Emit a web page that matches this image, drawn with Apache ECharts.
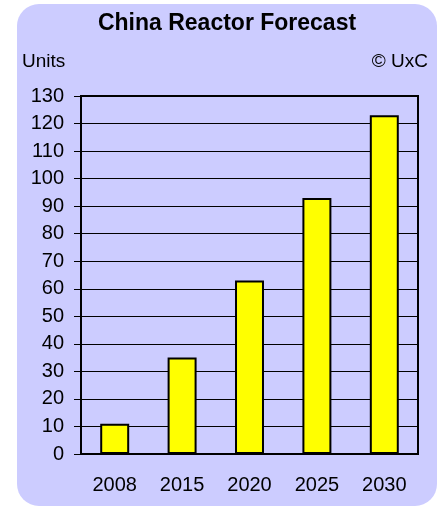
<!DOCTYPE html>
<html><head><meta charset="utf-8">
<script src="https://cdn.jsdelivr.net/npm/echarts@6/dist/echarts.min.js"></script>
<style>html,body{margin:0;padding:0;background:#fff}#c{width:438px;height:508px}</style>
</head><body><div id="c"></div>
<script>
const categories = ['2008','2015','2020','2025','2030'];
const units = [11, 35, 63, 93, 123];
const yMin = 0, yMax = 130, yStep = 10;
const titleText = 'China Reactor Forecast';
const unitLabel = 'Units';
const sourceLabel = '© UxC';

const chart = echarts.init(document.getElementById('c'), null, {renderer:'canvas'});
const font = '"Liberation Sans", Arial, sans-serif';
chart.setOption({
  backgroundColor: '#ffffff',
  animation: false,
  graphic: [
    {type:'rect', z:-10, shape:{x:17,y:4,width:420,height:502,r:22}, style:{fill:'#CCCCFF'}},
    {type:'text', x:227, y:24, style:{text:titleText, font:'bold 23px '+font, fill:'#000', textAlign:'center', textVerticalAlign:'middle'}},
    {type:'text', x:22, y:62, style:{text:unitLabel, font:'19px '+font, fill:'#000', textAlign:'left', textVerticalAlign:'middle'}},
    {type:'text', x:428, y:62, style:{text:sourceLabel, font:'19px '+font, fill:'#000', textAlign:'right', textVerticalAlign:'middle'}}
  ],
  grid: {left:81, top:96, right:20, bottom:54, show:true, borderColor:'#000', borderWidth:2, backgroundColor:'transparent'},
  xAxis: {
    type:'category', data:categories,
    axisLine:{lineStyle:{color:'#000', width:2}},
    axisTick:{inside:true, length:6, lineStyle:{color:'#000', width:1.5}},
    axisLabel:{color:'#000', fontFamily:font, fontSize:20, margin:21}
  },
  yAxis: {
    type:'value', min:yMin, max:yMax, interval:yStep,
    axisLine:{show:true, lineStyle:{color:'#000', width:2}},
    axisTick:{show:true, length:7, lineStyle:{color:'#000', width:1}},
    splitLine:{lineStyle:{color:'#000', width:1}},
    axisLabel:{color:'#000', fontFamily:font, fontSize:20, margin:17}
  },
  series: [{
    type:'bar', data:units, barWidth:'43%',
    itemStyle:{color:'#FFFF00', borderColor:'#000', borderWidth:2}
  }]
});
</script></body></html>
